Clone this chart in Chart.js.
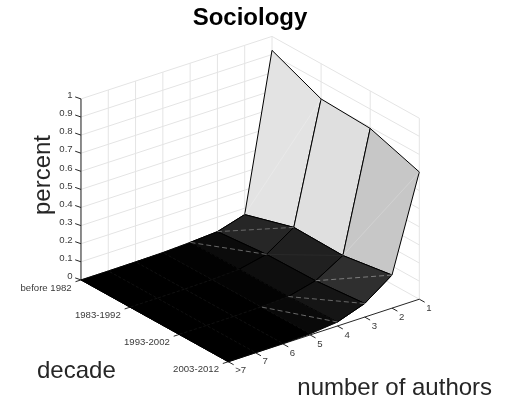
<!DOCTYPE html>
<html><head><meta charset="utf-8">
<style>html,body{margin:0;padding:0;background:#fff}canvas{display:block;filter:blur(0.35px)}</style>
<script src="https://cdn.jsdelivr.net/npm/chart.js@4"></script>
</head><body><canvas id="c" width="508" height="404"></canvas>
<script>
// ---------- data ----------
const authorLabels = ['1','2','3','4','5','6','7','>7'];
const decadeLabels = ['before 1982','1983-1992','1993-2002','2003-2012'];
const percentTicks = [0,0.1,0.2,0.3,0.4,0.5,0.6,0.7,0.8,0.9,1];
const before1982 = [0.923,0.065,0.020,0.010,0.003,0.001,0,0];
const d1983_1992 = [0.805,0.145,0.045,0.012,0.004,0.001,0,0];
const d1993_2002 = [0.793,0.140,0.050,0.012,0.004,0.001,0,0];
const d2003_2012 = [0.703,0.183,0.075,0.022,0.006,0.002,0.001,0];
const surface = [before1982,d1983_1992,d1993_2002,d2003_2012];

// ---------- view (orthographic projection of the 3-D box) ----------
const TOP = 32.3, RIGHT_PAD = 8;
const view = {ox:272, oy:217.4, ax:-27.29, ay:8.93, dx:49.1, dy:27.27, zy:-181};
const proj = (a,d,z) => ({x:view.ox+a*view.ax+d*view.dx, y:view.oy+a*view.ay+d*view.dy+z*view.zy});

// ---------- styling ----------
const GRID='#e4e4e4', AXIS='#262626', TXT='#262626', TXT2='#3a3a3a', FAINT='#1a1a1a';
const fills = [
 ['#e3e3e3','#262626','#0b0b0b','#020202','#000','#000','#000'],
 ['#dfdfdf','#202020','#0e0e0e','#030303','#000','#000','#000'],
 ['#c7c7c7','#2f2f2f','#151515','#090909','#000','#000','#000'],
];
const seams = [
 [0,0,'#eeeeee',false],[2,0,'#dcdcdc',false],
 [0,1,'#707070',true],[1,1,'#333333',false],[2,1,'#848484',true],
 [0,2,'#707070',true],[2,2,'#707070',true],[2,3,'#747474',true],
];

const list = [];
const line = (pts,color,w,extra={}) => list.push(Object.assign({data:pts,borderColor:color,borderWidth:w,showLine:true,pointRadius:0,fill:false,tension:0},extra));

percentTicks.forEach(z=>{ line([proj(7,0,z),proj(0,0,z),proj(0,3,z)],GRID,1); });
for(let a=0;a<authorLabels.length;a++) line([proj(a,0,0),proj(a,0,1)],GRID,1);
for(let d=1;d<decadeLabels.length;d++) line([proj(0,d,0),proj(0,d,1)],GRID,1);

line([proj(7,0,0),proj(7,0,1)],AXIS,1);
line([proj(7,3,0),proj(0,3,0)],AXIS,1);
percentTicks.forEach(z=>line([proj(7,0,z),proj(7.05,-0.09,z)],AXIS,1));
authorLabels.forEach((_,a)=>line([proj(a,3,0),proj(a,3.11,0)],AXIS,1));
decadeLabels.forEach((_,d)=>line([proj(7,d,0),proj(7.2,d,0)],AXIS,1));

// opaque underlay for the nearly flat part of the surface, so the facets' shared edges do not let the white through
const under=[];
for(let d=0;d<4;d++) under.push(proj(1,d,surface[d][1]));
for(let a=2;a<8;a++) under.push(proj(a,3,surface[3][a]));
for(let d=2;d>=0;d--) under.push(proj(7,d,surface[d][7]));
for(let a=6;a>=1;a--) under.push(proj(a,0,surface[0][a]));
line(under,'#000',1,{fill:'shape',backgroundColor:'#000'});

for(let a=0;a<7;a++) for(let d=0;d<3;d++){
  const p=[proj(a,d,surface[d][a]),proj(a+1,d,surface[d][a+1]),proj(a+1,d+1,surface[d+1][a+1]),proj(a,d+1,surface[d+1][a])];
  p.push(p[0]);
  line(p,a>=3?FAINT:'#000',a>=3?0.5:1,a>=3?{fill:'shape',backgroundColor:fills[d][a],borderDash:[3,2]}:{fill:'shape',backgroundColor:fills[d][a]});
}
seams.forEach(([d,a,c,dash])=>{
  line([proj(a,d+1,surface[d+1][a]),proj(a+1,d,surface[d][a+1])],c,dash?0.9:0.5,dash?{borderDash:[5,3]}:{});
});
line([proj(7,0,0),proj(7,3,0)],'#000',1);
list.forEach((ds,i)=>ds.order=list.length-i);

const labelsPlugin={id:'labels',afterDraw(chart){
  const c=chart.ctx,X=chart.scales.x,Y=chart.scales.y;
  const at=p=>[X.getPixelForValue(p.x),Y.getPixelForValue(p.y)];
  c.save();c.fillStyle=TXT2;
  c.font='9.6px "Liberation Sans"';c.textBaseline='middle';
  c.textAlign='right';
  percentTicks.forEach(z=>{const [x,y]=at(proj(7,0,z));c.fillText(String(z),x-8.3,y-3.4);});
  decadeLabels.forEach((t,d)=>{const [x,y]=at(proj(7,d,0));c.fillText(t,x-9.3,y+8);});
  c.textAlign='left';
  authorLabels.forEach((t,a)=>{const [x,y]=at(proj(a,3,0));c.fillText(t,x+7,y+9);});
  c.fillStyle=TXT;
  c.font='24px "Liberation Sans"';c.textBaseline='alphabetic';
  c.fillText('decade',37,378);
  c.fillText('number of authors',297.3,395);
  c.save();c.translate(49.5,175);c.rotate(-Math.PI/2);c.textAlign='center';c.fillText('percent',0,0);c.restore();
  c.restore();
}};

new Chart(document.getElementById('c'),{
  type:'scatter',
  data:{datasets:list},
  options:{
    responsive:false,animation:false,devicePixelRatio:1,
    layout:{padding:{left:0,right:RIGHT_PAD,top:0,bottom:0}},
    plugins:{
      legend:{display:false},tooltip:{enabled:false},
      title:{display:true,text:'Sociology',color:'#000',fullSize:false,
        font:{family:'"Liberation Sans"',size:24,weight:'bold',lineHeight:1.2},
        padding:{top:3.5,bottom:0}}
    },
    scales:{
      x:{type:'linear',display:false,min:0,max:508-RIGHT_PAD},
      y:{type:'linear',display:false,reverse:true,min:TOP,max:404}
    }
  },
  plugins:[labelsPlugin]
});
</script></body></html>
